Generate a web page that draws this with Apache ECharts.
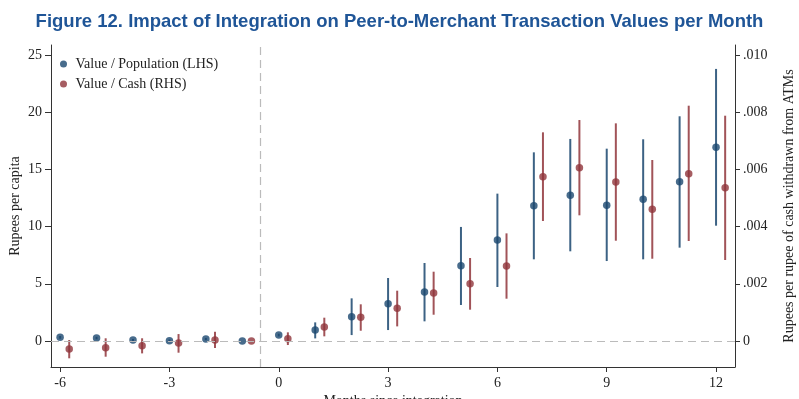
<!DOCTYPE html>
<html>
<head>
<meta charset="utf-8">
<script src="https://cdn.jsdelivr.net/npm/echarts@6/dist/echarts.min.js"></script>
<style>
  html, body { margin: 0; padding: 0; background: #fff; }
  #chart { width: 799px; height: 399px; }
</style>
</head>
<body>
<div id="chart"></div>
<script>
// months relative to integration
var months = [-6, -5, -4, -3, -2, -1, 0, 1, 2, 3, 4, 5, 6, 7, 8, 9, 10, 11, 12];

// Value / Population (LHS), rupees per capita
var popVal = [0.32, 0.26, 0.09, 0.03, 0.17, 0, 0.52, 0.96, 2.13, 3.26, 4.28, 6.58, 8.83, 11.83, 12.73, 11.86, 12.39, 13.93, 16.93];
var popLo  = [0.2, 0.15, 0, -0.08, 0.07, 0, 0.4, 0.23, 0.52, 0.96, 1.72, 3.15, 4.72, 7.14, 7.84, 6.99, 7.14, 8.16, 10.08];
var popHi  = [0.44, 0.37, 0.18, 0.14, 0.27, 0, 0.64, 1.63, 3.73, 5.51, 6.82, 9.97, 12.88, 16.49, 17.66, 16.81, 17.63, 19.64, 23.78];

// Value / Cash (RHS), rupees per rupee of cash withdrawn
var cashVal = [-0.00028, -0.000232, -0.000164, -0.000068, 0.000036, 0, 0.00008, 0.000488, 0.000828, 0.001144, 0.00168, 0.002004, 0.002624, 0.005745, 0.00606, 0.00556, 0.004604, 0.00585, 0.00536];
var cashLo  = [-0.000604, -0.000548, -0.000432, -0.000408, -0.000244, 0, -0.00014, 0.000164, 0.00036, 0.000512, 0.00092, 0.001096, 0.00148, 0.004196, 0.004395, 0.003507, 0.002878, 0.003497, 0.002832];
var cashHi  = [0.000036, 0.000096, 0.000096, 0.000244, 0.000324, 0, 0.000304, 0.000816, 0.001284, 0.00176, 0.002424, 0.002904, 0.003764, 0.007297, 0.007727, 0.007611, 0.006329, 0.008228, 0.007878];

var xTicks = [-6, -3, 0, 3, 6, 9, 12];
var leftTicks = [0, 5, 10, 15, 20, 25];
var rightTicks = [0, 0.002, 0.004, 0.006, 0.008, 0.010];

var cashShift = 0.25;   // red markers sit a little right of each month
var blue = '#1a476f';
var red = '#90353b';
var serif = '"Liberation Serif", "Times New Roman", serif';

var popPts = months.map(function (m, i) { return [m, popVal[i]]; });
var popBars = months.map(function (m, i) { return [m, popLo[i], popHi[i]]; });
var cashPts = months.map(function (m, i) { return [m + cashShift, cashVal[i]]; });
var cashBars = months.map(function (m, i) { return [m + cashShift, cashLo[i], cashHi[i]]; });

function barRenderer(color) {
    return function (params, api) {
        var lo = api.coord([api.value(0), api.value(1)]);
        var hi = api.coord([api.value(0), api.value(2)]);
        return {
            type: 'line',
            shape: { x1: lo[0], y1: lo[1], x2: hi[0], y2: hi[1] },
            style: { stroke: color, lineWidth: 2, opacity: 0.85 }
        };
    };
}

var option = {
    animation: false,
    backgroundColor: '#fff',
    title: {
        text: 'Figure 12. Impact of Integration on Peer-to-Merchant Transaction Values per Month',
        left: 'center',
        top: 7,
        textStyle: {
            color: '#1f5597',
            fontSize: 18.5,
            fontWeight: 'bold',
            fontFamily: '"Liberation Sans Narrow", "Arial Narrow", "Liberation Sans", sans-serif'
        }
    },
    legend: {
        orient: 'vertical',
        left: 60,
        top: 57,
        padding: 0,
        itemWidth: 14,
        itemHeight: 7,
        itemGap: 6,
        icon: 'circle',
        data: ['Value / Population (LHS)', 'Value / Cash (RHS)'],
        textStyle: { fontFamily: serif, fontSize: 14, color: '#222' }
    },
    grid: { left: 51, right: 64, top: 45, bottom: 32, outerBoundsMode: 'none', containLabel: false },
    xAxis: {
        type: 'value',
        min: -6.25,
        max: 12.52,
        name: 'Months since integration',
        nameLocation: 'middle',
        nameGap: 27,
        nameMoveOverlap: false,
        nameTextStyle: { fontFamily: serif, fontSize: 14, color: '#222' },
        splitLine: { show: false },
        axisLine: { show: true, onZero: false, lineStyle: { color: '#333', width: 1 } },
        axisTick: { show: true, customValues: xTicks, length: 5, lineStyle: { color: '#333' } },
        axisLabel: { customValues: xTicks, fontFamily: serif, fontSize: 14, color: '#222', margin: 9 }
    },
    yAxis: [
        {
            type: 'value',
            position: 'left',
            min: -2.27,
            max: 25.87,
            name: 'Rupees per capita',
            nameLocation: 'middle',
            nameRotate: 90,
            nameGap: 29,
            nameMoveOverlap: false,
            nameTextStyle: { fontFamily: serif, fontSize: 14, color: '#222' },
            splitLine: { show: false },
            axisLine: { show: true, onZero: false, lineStyle: { color: '#333', width: 1 } },
            axisTick: { show: true, customValues: leftTicks, length: 6, lineStyle: { color: '#333' } },
            axisLabel: { customValues: leftTicks, fontFamily: serif, fontSize: 14, color: '#222', margin: 9 }
        },
        {
            type: 'value',
            position: 'right',
            min: -0.000908,
            max: 0.01035,
            name: 'Rupees per rupee of cash withdrawn from ATMs',
            nameLocation: 'middle',
            nameRotate: 90,
            nameGap: 47,
            nameMoveOverlap: false,
            nameTextStyle: { fontFamily: serif, fontSize: 14, color: '#222' },
            splitLine: { show: false },
            axisLine: { show: true, onZero: false, lineStyle: { color: '#333', width: 1 } },
            axisTick: { show: true, customValues: rightTicks, length: 5, lineStyle: { color: '#333' } },
            axisLabel: {
                customValues: rightTicks,
                fontFamily: serif, fontSize: 14, color: '#222', margin: 8,
                formatter: function (v) {
                    if (Math.abs(v) < 1e-9) return '0';
                    return v.toFixed(3).replace(/^0/, '');
                }
            }
        }
    ],
    series: [
        {
            type: 'custom',
            name: 'popBars',
            yAxisIndex: 0,
            data: popBars,
            renderItem: barRenderer(blue),
            z: 2,
            markLine: {
                silent: true,
                symbol: 'none',
                label: { show: false },
                lineStyle: { color: '#bbb', type: [8, 5], width: 1.2 },
                data: [{ yAxis: 0 }, { xAxis: -0.5 }]
            }
        },
        {
            type: 'custom',
            name: 'cashBars',
            yAxisIndex: 1,
            data: cashBars,
            renderItem: barRenderer(red),
            z: 2
        },
        {
            type: 'scatter',
            name: 'Value / Population (LHS)',
            yAxisIndex: 0,
            data: popPts,
            symbol: 'circle',
            symbolSize: 7.5,
            itemStyle: { color: blue },
            z: 3
        },
        {
            type: 'scatter',
            name: 'Value / Cash (RHS)',
            yAxisIndex: 1,
            data: cashPts,
            symbol: 'circle',
            symbolSize: 7.5,
            itemStyle: { color: red },
            z: 3
        }
    ]
};

echarts.init(document.getElementById('chart')).setOption(option);
</script>
</body>
</html>
